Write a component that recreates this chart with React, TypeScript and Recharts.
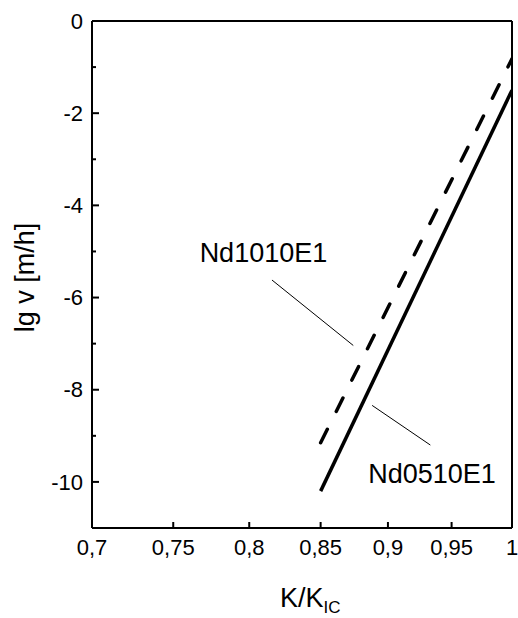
import { LineChart, Line, XAxis, YAxis, ReferenceLine, ReferenceDot } from "recharts";

// K/K_IC ticks (log axis) and lg v ticks
const xTicks = [0.7, 0.75, 0.8, 0.85, 0.9, 0.95, 1];
const yTicks = [-10, -9, -8, -7, -6, -5, -4, -3, -2, -1, 0];

// series
const nd0510 = [
  { k: 0.85, v: -10.2 },
  { k: 1, v: -1.5 },
];
const nd1010 = [
  { k: 0.85, v: -9.15 },
  { k: 1, v: -0.82 },
];

// annotation leaders and label anchors, in data units
const leader1010 = [{ x: 0.8156, y: -5.62 }, { x: 0.8739, y: -7.04 }];
const leader0510 = [{ x: 0.888, y: -8.34 }, { x: 0.933, y: -9.2 }];
const labels = [
  { k: 0.767, v: -5.23, text: "Nd1010E1" },
  { k: 0.885, v: -10.03, text: "Nd0510E1" },
];

const FONT = "'Liberation Sans', Arial, sans-serif";

const fmt = (v: number) => String(v).replace(".", ",");

function YTick(props: any) {
  const { x, y, payload } = props;
  const v = payload.value;
  const major = v % 2 === 0;
  return (
    <g>
      <line x1={x} x2={x + (major ? 7 : 4)} y1={y} y2={y} stroke="#000" strokeWidth={2} />
      {major && (
        <text x={x - 9} y={y} dy="0.35em" textAnchor="end" fontSize={22} fontFamily={FONT} fill="#000">
          {v}
        </text>
      )}
    </g>
  );
}

function XTick(props: any) {
  const { x, y, payload } = props;
  return (
    <g>
      <line x1={x} x2={x} y1={y} y2={y - 6} stroke="#000" strokeWidth={2} />
      <text x={x} y={y + 27} textAnchor="middle" fontSize={22} fontFamily={FONT} fill="#000">
        {fmt(payload.value)}
      </text>
    </g>
  );
}

function XLabel(props: any) {
  const { x, y, width } = props.viewBox;
  return (
    <text x={x + width / 2 - 22} y={y + 79} fontSize={27} fontFamily={FONT} fill="#000">
      K/K
      <tspan fontSize={17} dy={6}>IC</tspan>
    </text>
  );
}

function YLabel(props: any) {
  const { y, height } = props.viewBox;
  const cx = 34;
  const cy = y + height / 2 + 3;
  return (
    <text
      x={cx}
      y={cy}
      textAnchor="middle"
      fontSize={27}
      fontFamily={FONT}
      fill="#000"
      transform={`rotate(-90, ${cx}, ${cy})`}
    >
      lg v [m/h]
    </text>
  );
}

export default function App() {
  return (
    <div style={{ position: "absolute", left: 0, top: 0, background: "#fff", fontFamily: FONT }}>
      <LineChart width={518} height={618} margin={{ top: 21, right: 6, bottom: 0, left: 0 }}>
        <XAxis
          dataKey="k"
          type="number"
          scale="log"
          domain={[0.7, 1]}
          ticks={xTicks}
          allowDataOverflow
          height={90}
          stroke="#000"
          strokeWidth={2}
          tickLine={false}
          tickSize={0}
          tickMargin={0}
          tick={<XTick />}
          interval={0}
          label={<XLabel />}
        />
        <YAxis
          type="number"
          domain={[-11, 0]}
          ticks={yTicks}
          allowDataOverflow
          width={92}
          stroke="#000"
          strokeWidth={2}
          tickLine={false}
          tickSize={0}
          tickMargin={0}
          tick={<YTick />}
          interval={0}
          label={<YLabel />}
        />
        <ReferenceLine y={0} stroke="#000" strokeWidth={2} />
        <ReferenceLine x={1} stroke="#000" strokeWidth={2} />
        <ReferenceLine segment={leader1010} stroke="#000" strokeWidth={1} />
        <ReferenceLine segment={leader0510} stroke="#000" strokeWidth={1} />
        {labels.map((l) => (
          <ReferenceDot
            key={l.text}
            x={l.k}
            y={l.v}
            r={0}
            shape={(p: any) => (
              <text x={p.cx} y={p.cy} fontSize={27} fontFamily={FONT} fill="#000">
                {l.text}
              </text>
            )}
          />
        ))}
        <Line
          data={nd0510}
          dataKey="v"
          stroke="#000"
          strokeWidth={3.5}
          dot={false}
          isAnimationActive={false}
        />
        <Line
          data={nd1010}
          dataKey="v"
          stroke="#000"
          strokeWidth={3.5}
          strokeDasharray="15 20"
          strokeLinecap="round"
          dot={false}
          isAnimationActive={false}
        />
      </LineChart>
    </div>
  );
}
